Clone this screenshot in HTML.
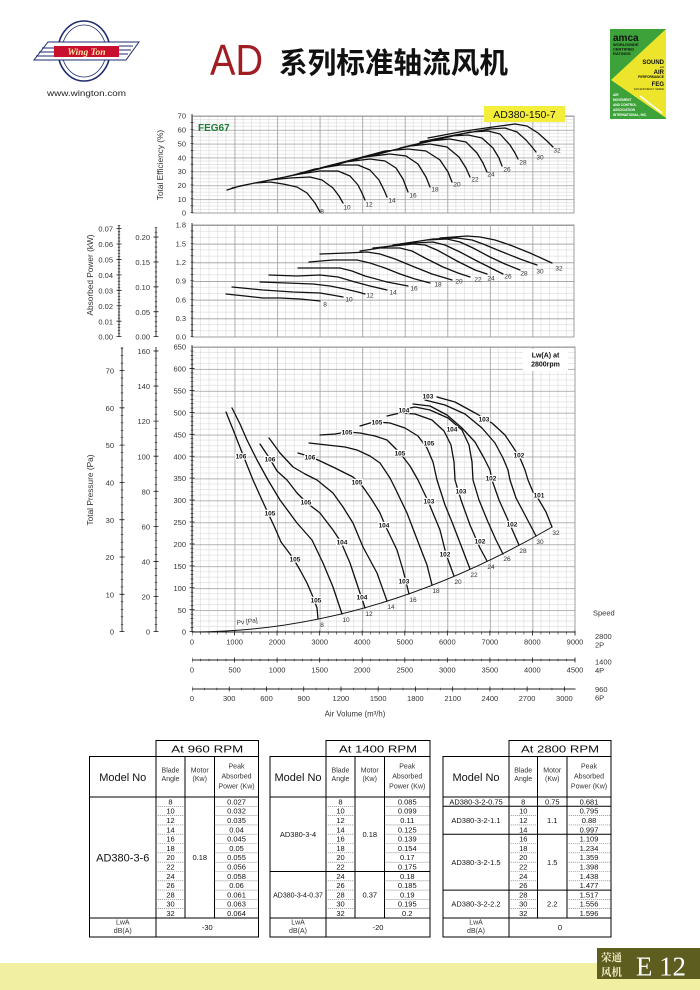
<!DOCTYPE html>
<html><head><meta charset="utf-8"><style>html,body{margin:0;padding:0;background:#fff}svg{display:block}</style></head><body>
<svg xmlns="http://www.w3.org/2000/svg" width="700" height="990" viewBox="0 0 700 990" font-family="'Liberation Sans', Arial, sans-serif">
<defs>
<pattern id="gE" x="192" y="116" width="42.556" height="13.857" patternUnits="userSpaceOnUse">
<path d="M8.511,0V13.857M17.022,0V13.857M25.533,0V13.857M34.044,0V13.857M0,3.464H42.556M0,6.929H42.556M0,10.393H42.556" stroke="#d2d2d2" stroke-width="0.5"/>
<path d="M0.4,0V13.857M0,0.4H42.556" stroke="#9c9c9c" stroke-width="0.8"/>
</pattern>
<pattern id="gP" x="192" y="225" width="42.556" height="18.667" patternUnits="userSpaceOnUse">
<path d="M8.511,0V18.667M17.022,0V18.667M25.533,0V18.667M34.044,0V18.667M0,6.222H42.556M0,12.444H42.556" stroke="#d2d2d2" stroke-width="0.5"/>
<path d="M0.4,0V18.667M0,0.4H42.556" stroke="#9c9c9c" stroke-width="0.8"/>
</pattern>
<pattern id="gT" x="192" y="347" width="42.556" height="21.923" patternUnits="userSpaceOnUse">
<path d="M8.511,0V21.923M17.022,0V21.923M25.533,0V21.923M34.044,0V21.923M0,5.481H42.556M0,10.962H42.556M0,16.442H42.556" stroke="#d2d2d2" stroke-width="0.5"/>
<path d="M0.4,0V21.923M0,0.4H42.556" stroke="#9c9c9c" stroke-width="0.8"/>
</pattern>
</defs>

<!-- ===== LOGO ===== -->
<ellipse cx="84" cy="51" rx="26" ry="30" fill="none" stroke="#1d2a6e" stroke-width="1.6"/>
<ellipse cx="84" cy="51" rx="22" ry="26" fill="none" stroke="#1d2a6e" stroke-width="0.8"/>
<polygon points="48,42 139,42 126,60 34,60" fill="#fff" stroke="#1d2a6e" stroke-width="1"/>
<path d="M42,48H54M39,52H54M36,56H54M119,46H133M119,50H131M119,54H128" stroke="#1d2a6e" stroke-width="0.9"/>
<rect x="54" y="46" width="65" height="11" fill="#c8102e"/>
<text x="86.5" y="55" font-family="'Liberation Serif', serif" font-weight="bold" font-style="italic" font-size="9.5" fill="#fbe7a4" text-anchor="middle">Wing Ton</text>
<text x="86.5" y="96" font-size="8.5" fill="#222" text-anchor="middle" textLength="79" lengthAdjust="spacingAndGlyphs">www.wington.com</text>

<!-- ===== TITLE ===== -->
<text x="210" y="75" font-size="44" fill="#a01d23" textLength="53" lengthAdjust="spacingAndGlyphs">AD</text>
<text x="279" y="73" font-size="29" font-weight="bold" fill="#111" font-family="'Liberation Sans','Noto Sans CJK SC',sans-serif" textLength="229" lengthAdjust="spacingAndGlyphs">系列标准轴流风机</text>

<!-- ===== AMCA ===== -->
<rect x="610" y="29" width="56" height="90" fill="#3da23a"/>
<polygon points="666,29 611,80 666,118" fill="#ece52c"/>
<path d="M640,96L662,113" stroke="#fff" stroke-width="1.5"/>
<text x="613" y="41" font-size="10" font-weight="bold" fill="#111">amca</text>
<text x="613" y="46" font-size="4" font-weight="bold" fill="#111">WORLDWIDE</text>
<text x="613" y="50.5" font-size="4" font-weight="bold" fill="#111">CERTIFIED</text>
<text x="613" y="55" font-size="4" font-weight="bold" fill="#111">RATINGS</text>
<text x="664" y="64" font-size="6" font-weight="bold" fill="#111" text-anchor="end">SOUND</text>
<text x="664" y="68" font-size="2.5" fill="#111" text-anchor="end">and</text>
<text x="664" y="74" font-size="6" font-weight="bold" fill="#111" text-anchor="end">AIR</text>
<text x="664" y="78" font-size="3.3" font-weight="bold" fill="#111" text-anchor="end">PERFORMANCE</text>
<text x="664" y="86" font-size="6" font-weight="bold" fill="#111" text-anchor="end">FEG</text>
<text x="664" y="90" font-size="2.5" fill="#111" text-anchor="end">FAN EFFICIENCY GRADE</text>
<text x="613" y="96" font-size="3.2" font-weight="bold" fill="#fff">AIR</text>
<text x="613" y="101" font-size="3.2" font-weight="bold" fill="#fff">MOVEMENT</text>
<text x="613" y="106" font-size="3.2" font-weight="bold" fill="#fff">AND CONTROL</text>
<text x="613" y="111" font-size="3.2" font-weight="bold" fill="#fff">ASSOCIATION</text>
<text x="613" y="116" font-size="3.2" font-weight="bold" fill="#fff">INTERNATIONAL, INC.</text>

<!-- ===== EFFICIENCY CHART ===== -->
<rect x="192" y="116" width="382" height="97" fill="url(#gE)" stroke="#888" stroke-width="0.8"/>
<line x1="192" y1="213" x2="192" y2="114" stroke="#222" stroke-width="0.9"/>
<line x1="192" y1="213" x2="192" y2="116" stroke="#222" stroke-width="3" stroke-dasharray="0.6 6.33"/>
<g font-size="7.5" fill="#333" text-anchor="end">
<text x="186" y="118.7">70</text><text x="186" y="132.6">60</text><text x="186" y="146.4">50</text><text x="186" y="160.3">40</text><text x="186" y="174.1">30</text><text x="186" y="188">20</text><text x="186" y="201.8">10</text><text x="186" y="215.7">0</text>
</g>
<text transform="translate(163,165) rotate(-90)" font-size="8.3" fill="#333" text-anchor="middle">Total Efficiency (%)</text>
<text x="198" y="131" font-size="10" font-weight="bold" fill="#1e7b34">FEG67</text>
<rect x="484" y="106" width="81" height="16" fill="#f2ee3a"/>
<text x="524.5" y="118" font-size="10.5" fill="#111" text-anchor="middle">AD380-150-7</text>
<path fill="none" stroke="#111" stroke-width="1.3" stroke-linejoin="round" stroke-linecap="round" d="
M227,190L240,186 255,183 270,182 283,184 297,187 307,193 315,203 320,212
M232,188L250,184 270,180 290,178 310,177 322,180 333,188 339,196 343,203
M250,184L275,179 300,174 320,171 338,171 350,176 358,185 362,193 365,200
M265,181L290,176 315,169 340,165 358,165 370,170 379,180 384,190 387,197
M285,177L315,170 345,162 370,159 385,161 396,168 403,179 408,192
M300,173L335,165 365,157 390,154 406,156 418,164 426,177 430,187
M320,168L355,159 385,151 408,149 426,151 440,160 448,172 452,182
M350,161L385,152 410,146 430,144 447,147 459,157 466,168 470,177
M375,155L405,147 430,141 450,139 466,142 477,153 483,163 487,172
M400,148L425,142 450,136 468,135 482,138 493,148 499,158 502,166
M405,147L440,139 470,132 488,131 500,134 510,145 515,153 518,159
M420,142L455,135 490,129 505,128 517,132 526,140 532,147 536,152
M428,138L465,131 500,126 515,124 527,126 538,133 547,141 553,147"/>
<g font-size="6.5" fill="#333" text-anchor="middle">
<text x="322" y="213.5">8</text><text x="347" y="209.3">10</text><text x="369" y="206.3">12</text><text x="392" y="202.3">14</text><text x="413" y="197.3">16</text><text x="435" y="191.3">18</text><text x="457" y="186.3">20</text><text x="475" y="181.3">22</text><text x="491" y="176.3">24</text><text x="507" y="171.3">26</text><text x="523" y="164.3">28</text><text x="540" y="159.3">30</text><text x="557" y="152.3">32</text>
</g>

<!-- ===== POWER CHART ===== -->
<rect x="192" y="225" width="382" height="112" fill="url(#gP)" stroke="#888" stroke-width="0.8"/>
<line x1="192" y1="337" x2="192" y2="223" stroke="#222" stroke-width="0.9"/>
<line x1="192" y1="337" x2="192" y2="225" stroke="#222" stroke-width="3" stroke-dasharray="0.6 5.622"/>
<line x1="156" y1="337" x2="156" y2="227" stroke="#222" stroke-width="0.9"/>
<line x1="156" y1="337" x2="156" y2="227" stroke="#222" stroke-width="2.5" stroke-dasharray="0.6 4.378"/>
<line x1="156" y1="337" x2="156" y2="227" stroke="#222" stroke-width="5" stroke-dasharray="0.8 24.09"/>
<line x1="119" y1="337" x2="119" y2="225" stroke="#222" stroke-width="0.9"/>
<line x1="119" y1="337" x2="119" y2="225" stroke="#222" stroke-width="2.5" stroke-dasharray="0.6 2.486"/>
<line x1="119" y1="337" x2="119" y2="225" stroke="#222" stroke-width="5" stroke-dasharray="0.8 14.63"/>
<g font-size="7.5" fill="#333" text-anchor="end">
<text x="186" y="227.7">1.8</text><text x="186" y="246.4">1.5</text><text x="186" y="265">1.2</text><text x="186" y="283.7">0.9</text><text x="186" y="302.4">0.6</text><text x="186" y="321">0.3</text><text x="186" y="339.7">0.0</text>
<text x="150" y="240.1">0.20</text><text x="150" y="265">0.15</text><text x="150" y="289.9">0.10</text><text x="150" y="314.8">0.05</text><text x="150" y="339.7">0.00</text>
<text x="113" y="231.7">0.07</text><text x="113" y="247.1">0.06</text><text x="113" y="262.5">0.05</text><text x="113" y="278">0.04</text><text x="113" y="293.4">0.03</text><text x="113" y="308.8">0.02</text><text x="113" y="324.3">0.01</text><text x="113" y="339.7">0.00</text>
</g>
<text transform="translate(93,275) rotate(-90)" font-size="8.3" fill="#333" text-anchor="middle">Absorbed Power (kW)</text>
<path fill="none" stroke="#111" stroke-width="1.3" stroke-linejoin="round" stroke-linecap="round" d="
M226,294L245,296 263,298 280,298 300,299 320,301
M232,287L263,290 293,292 320,293 332,295 343,297
M260,282L287,283 313,284 330,286 345,289 358,292 365,294
M269,275L297,276 320,275 338,277 355,282 370,286 387,290
M298,268L323,268 340,268 352,271 365,276 387,282 408,286
M309,262L333,260 357,260 370,263 385,268 400,274 415,279 430,283
M320,254L347,253 367,252 380,254 395,259 412,266 432,274 452,280
M360,251L380,248 400,248 412,251 425,258 443,267 458,273 470,277
M373,248L393,246 413,244 425,245 437,250 457,261 475,270 487,274
M383,247L413,243 433,242 445,245 460,252 477,261 493,269 503,274
M393,245L427,240 447,239 460,242 473,248 490,257 505,264 520,270
M420,241L433,239 457,238 472,240 483,244 500,251 520,259 537,265
M440,238L467,236 480,237 495,240 510,245 530,253 552,263"/>
<g font-size="6.5" fill="#333" text-anchor="middle">
<text x="325" y="306.3">8</text><text x="349" y="301.3">10</text><text x="370" y="297.3">12</text><text x="393" y="294.3">14</text><text x="414" y="290.3">16</text><text x="438" y="286.3">18</text><text x="459" y="283.3">20</text><text x="478" y="281.3">22</text><text x="491" y="280.3">24</text><text x="508" y="278.3">26</text><text x="524" y="275.3">28</text><text x="540" y="273.3">30</text><text x="559" y="270.3">32</text>
</g>

<!-- ===== PRESSURE CHART ===== -->
<rect x="192" y="347" width="383" height="285" fill="url(#gT)" stroke="#888" stroke-width="0.8"/>
<line x1="192" y1="632" x2="192" y2="345" stroke="#222" stroke-width="0.9"/>
<line x1="192" y1="632" x2="192" y2="347" stroke="#222" stroke-width="3" stroke-dasharray="0.6 3.785"/>
<line x1="192" y1="632" x2="192" y2="347" stroke="#222" stroke-width="5" stroke-dasharray="0.8 21.12"/>
<line x1="156" y1="632" x2="156" y2="347" stroke="#222" stroke-width="0.9"/>
<line x1="156" y1="632" x2="156" y2="347" stroke="#222" stroke-width="2.5" stroke-dasharray="0.6 6.415"/>
<line x1="156" y1="632" x2="156" y2="347" stroke="#222" stroke-width="5" stroke-dasharray="0.8 34.28"/>
<line x1="122" y1="632" x2="122" y2="347" stroke="#222" stroke-width="0.9"/>
<line x1="122" y1="632" x2="122" y2="347" stroke="#222" stroke-width="2.5" stroke-dasharray="0.6 6.86"/>
<line x1="122" y1="632" x2="122" y2="347" stroke="#222" stroke-width="5" stroke-dasharray="0.8 36.5"/>
<g font-size="7.5" fill="#333" text-anchor="end">
<text x="186" y="349.7">650</text><text x="186" y="371.6">600</text><text x="186" y="393.5">550</text><text x="186" y="415.4">500</text><text x="186" y="437.4">450</text><text x="186" y="459.3">400</text><text x="186" y="481.2">350</text><text x="186" y="503.1">300</text><text x="186" y="525.1">250</text><text x="186" y="547">200</text><text x="186" y="568.9">150</text><text x="186" y="590.8">100</text><text x="186" y="612.8">50</text><text x="186" y="634.7">0</text>
<text x="150" y="354.1">160</text><text x="150" y="389.2">140</text><text x="150" y="424.2">120</text><text x="150" y="459.3">100</text><text x="150" y="494.4">80</text><text x="150" y="529.5">60</text><text x="150" y="564.5">40</text><text x="150" y="599.6">20</text><text x="150" y="634.7">0</text>
<text x="114" y="373.6">70</text><text x="114" y="410.9">60</text><text x="114" y="448.2">50</text><text x="114" y="485.5">40</text><text x="114" y="522.8">30</text><text x="114" y="560.1">20</text><text x="114" y="597.4">10</text><text x="114" y="634.7">0</text>
</g>
<text transform="translate(93,490) rotate(-90)" font-size="8.3" fill="#333" text-anchor="middle">Total Pressure (Pa)</text>

<!-- Pv curve -->
<path d="M192,632Q372,632 552,527" fill="none" stroke="#111" stroke-width="1"/>
<text transform="translate(237,625) rotate(-8)" font-size="6.5" fill="#333">Pv [Pa]</text>

<path fill="none" stroke="#111" stroke-width="1.3" stroke-linejoin="round" stroke-linecap="round" d="
M226,412L234,432 243,455 253,480 262,500 268,513 275,528 281,542 293,558 300,570 307,583 313,597 317,608 318,619
M232,408L240,424 247,440 257,460 268,480 280,500 297,523 312,540 323,563 333,587 342,614
M260,444L270,459 277,471 287,480 297,493 307,503 320,513 333,530 341,542 350,563 360,593 365,608
M269,438L280,453 293,467 305,474 317,480 333,493 343,507 353,523 363,547 377,573 387,601
M298,453L308,456 318,460 335,468 353,477 363,487 372,500 380,513 385,525 397,550 403,570 409,594
M309,443L327,445 345,447 357,450 370,456 380,463 390,478 395,488 407,513 420,547 427,565 432,585
M320,435L335,434 347,432 360,433 375,436 387,440 400,453 410,466 418,480 428,501 440,530 446,554 454,576
M360,426L370,423 377,422 390,423 405,428 418,436 427,448 433,462 437,480 445,505 452,522 462,548 470,569
M387,416L400,413 415,414 432,420 444,431 451,445 454,462 455,480 461,500 470,525 480,548 487,561
M400,410L415,407 430,410 448,418 462,430 469,445 472,462 473,480 479,500 488,522 496,540 503,554
M413,404L430,406 447,415 462,428 475,442 484,458 490,470 492,480 499,500 508,520 519,545
M425,400L445,405 465,414 482,428 495,443 503,458 508,470 510,480 516,498 525,515 536,536
M437,397L455,402 477,414 492,423 505,435 513,447 520,458 525,470 528,480 533,492 539,500 546,512 552,527"/>

<g font-size="6.5" fill="#333" text-anchor="middle">
<text x="322" y="627">8</text><text x="346" y="622">10</text><text x="369" y="616">12</text><text x="391" y="609">14</text><text x="413" y="602">16</text><text x="436" y="593">18</text><text x="458" y="584">20</text><text x="474" y="577">22</text><text x="491" y="569">24</text><text x="507" y="561">26</text><text x="523" y="553">28</text><text x="540" y="544">30</text><text x="556" y="535">32</text>
</g>
<g font-size="6.5" font-weight="bold" fill="#111" text-anchor="middle" stroke="#fff" stroke-width="2.4" paint-order="stroke" stroke-linejoin="round">
<text x="241" y="458.3">106</text><text x="270" y="461.3">106</text><text x="310" y="459.3">106</text>
<text x="347" y="434.3">105</text><text x="377" y="424.3">105</text><text x="270" y="515.3">105</text><text x="306" y="504.3">105</text><text x="357" y="484.3">105</text><text x="400" y="455.3">105</text><text x="429" y="445.3">105</text><text x="295" y="561.3">105</text><text x="316" y="602.3">105</text>
<text x="404" y="412.3">104</text><text x="452" y="431.3">104</text><text x="342" y="544.3">104</text><text x="384" y="527.3">104</text><text x="362" y="599.3">104</text>
<text x="428" y="398.3">103</text><text x="484" y="421.3">103</text><text x="429" y="503.3">103</text><text x="461" y="493.3">103</text><text x="404" y="583.3">103</text>
<text x="519" y="457.3">102</text><text x="491" y="480.3">102</text><text x="445" y="556.3">102</text><text x="480" y="543.3">102</text><text x="512" y="526.3">102</text>
<text x="539" y="497.3">101</text>
</g>
<rect x="523" y="349" width="45" height="22" fill="#fff"/>
<text x="545.5" y="357.5" font-size="7" font-weight="bold" fill="#111" text-anchor="middle">Lw(A) at</text>
<text x="545.5" y="366.5" font-size="7" font-weight="bold" fill="#111" text-anchor="middle">2800rpm</text>

<!-- x axes -->
<line x1="192" y1="632" x2="575.5" y2="632" stroke="#222" stroke-width="0.9"/>
<line x1="192" y1="633" x2="575.5" y2="633" stroke="#222" stroke-width="3" stroke-dasharray="0.6 7.911" stroke-dashoffset="0.3"/>
<line x1="192" y1="633" x2="575.5" y2="633" stroke="#222" stroke-width="5" stroke-dasharray="0.8 41.756" stroke-dashoffset="0.4"/>
<line x1="192" y1="660" x2="575.5" y2="660" stroke="#222" stroke-width="0.9"/>
<line x1="192" y1="660" x2="575.5" y2="660" stroke="#222" stroke-width="2.5" stroke-dasharray="0.6 7.911" stroke-dashoffset="0.3"/>
<line x1="192" y1="660" x2="575.5" y2="660" stroke="#222" stroke-width="5" stroke-dasharray="0.8 41.756" stroke-dashoffset="0.4"/>
<line x1="192" y1="689" x2="575.5" y2="689" stroke="#222" stroke-width="0.9"/>
<line x1="192" y1="689" x2="575.5" y2="689" stroke="#222" stroke-width="2.5" stroke-dasharray="0.6 11.812" stroke-dashoffset="0.3"/>
<line x1="192" y1="689" x2="575.5" y2="689" stroke="#222" stroke-width="5" stroke-dasharray="0.8 36.437" stroke-dashoffset="0.4"/>
<g font-size="7.5" fill="#333" text-anchor="middle">
<text x="192" y="644.5">0</text><text x="234.6" y="644.5">1000</text><text x="277.1" y="644.5">2000</text><text x="319.7" y="644.5">3000</text><text x="362.2" y="644.5">4000</text><text x="404.8" y="644.5">5000</text><text x="447.3" y="644.5">6000</text><text x="489.9" y="644.5">7000</text><text x="532.4" y="644.5">8000</text><text x="575" y="644.5">9000</text>
<text x="192" y="672.5">0</text><text x="234.6" y="672.5">500</text><text x="277.1" y="672.5">1000</text><text x="319.7" y="672.5">1500</text><text x="362.2" y="672.5">2000</text><text x="404.8" y="672.5">2500</text><text x="447.3" y="672.5">3000</text><text x="489.9" y="672.5">3500</text><text x="532.4" y="672.5">4000</text><text x="575" y="672.5">4500</text>
<text x="192" y="701">0</text><text x="229.2" y="701">300</text><text x="266.5" y="701">600</text><text x="303.7" y="701">900</text><text x="340.9" y="701">1200</text><text x="378.2" y="701">1500</text><text x="415.4" y="701">1800</text><text x="452.7" y="701">2100</text><text x="489.9" y="701">2400</text><text x="527.1" y="701">2700</text><text x="564.4" y="701">3000</text>
<text x="355" y="716.5" font-size="7.8">Air Volume (m³/h)</text>
</g>
<g font-size="7.5" fill="#333">
<text x="593" y="615.5">Speed</text>
<text x="595" y="639">2800</text><text x="595" y="647.5">2P</text>
<text x="595" y="664.5">1400</text><text x="595" y="673">4P</text>
<text x="595" y="692">960</text><text x="595" y="700.5">6P</text>
</g>

<!-- ===== TABLES ===== -->
<g stroke="#000" stroke-width="1" fill="none">
<rect x="89.5" y="756.5" width="169" height="180.5"/>
<rect x="156" y="740.5" width="102.5" height="16"/>
<path d="M156,756.5V937M185,756.5V918M214.5,756.5V918M89.5,797H258.5M89.5,918H258.5"/>
<rect x="270" y="756.5" width="160" height="180.5"/>
<rect x="326" y="740.5" width="104" height="16"/>
<path d="M326,756.5V937M355,756.5V918M384.5,756.5V918M270,797H430M270,918H430M270,871.5H430"/>
<rect x="443" y="756.5" width="168" height="180.5"/>
<rect x="509" y="740.5" width="102" height="16"/>
<path d="M509,756.5V937M537.5,756.5V918M567,756.5V918M443,797H611M443,918H611M443,806.3H611M443,834.2H611M443,890.1H611"/>
</g>
<g stroke="#777" stroke-width="0.6" stroke-dasharray="1.2 0.8">
<path d="M156,806.3H185M156,815.6H185M156,824.9H185M156,834.2H185M156,843.5H185M156,852.8H185M156,862.2H185M156,871.5H185M156,880.8H185M156,890.1H185M156,899.4H185M156,908.7H185
M214.5,806.3H258.5M214.5,815.6H258.5M214.5,824.9H258.5M214.5,834.2H258.5M214.5,843.5H258.5M214.5,852.8H258.5M214.5,862.2H258.5M214.5,871.5H258.5M214.5,880.8H258.5M214.5,890.1H258.5M214.5,899.4H258.5M214.5,908.7H258.5"/>
<path d="M326,806.3H355M326,815.6H355M326,824.9H355M326,834.2H355M326,843.5H355M326,852.8H355M326,862.2H355M326,880.8H355M326,890.1H355M326,899.4H355M326,908.7H355
M384.5,806.3H430M384.5,815.6H430M384.5,824.9H430M384.5,834.2H430M384.5,843.5H430M384.5,852.8H430M384.5,862.2H430M384.5,880.8H430M384.5,890.1H430M384.5,899.4H430M384.5,908.7H430"/>
<path d="M509,815.6H537.5M509,824.9H537.5M509,843.5H537.5M509,852.8H537.5M509,862.2H537.5M509,871.5H537.5M509,880.8H537.5M509,899.4H537.5M509,908.7H537.5
M567,815.6H611M567,824.9H611M567,843.5H611M567,852.8H611M567,862.2H611M567,871.5H611M567,880.8H611M567,899.4H611M567,908.7H611"/>
</g>

<g fill="#111" text-anchor="middle">
<!-- headers -->
<text x="207.25" y="752.5" font-size="10.5" textLength="72" lengthAdjust="spacingAndGlyphs">At 960 RPM</text>
<text x="378" y="752.5" font-size="10.5" textLength="78" lengthAdjust="spacingAndGlyphs">At 1400 RPM</text>
<text x="560" y="752.5" font-size="10.5" textLength="78" lengthAdjust="spacingAndGlyphs">At 2800 RPM</text>
<g font-size="11"><text x="122.75" y="781">Model No</text><text x="298" y="781">Model No</text><text x="476" y="781">Model No</text></g>
<g font-size="7" fill="#333">
<text x="170.5" y="772.5">Blade</text><text x="170.5" y="781">Angle</text><text x="199.75" y="772.5">Motor</text><text x="199.75" y="781">(Kw)</text>
<text x="236.5" y="768.5">Peak</text><text x="236.5" y="778.5">Absorbed</text><text x="236.5" y="788.5">Power (Kw)</text>
<text x="340.5" y="772.5">Blade</text><text x="340.5" y="781">Angle</text><text x="369.75" y="772.5">Motor</text><text x="369.75" y="781">(Kw)</text>
<text x="407.25" y="768.5">Peak</text><text x="407.25" y="778.5">Absorbed</text><text x="407.25" y="788.5">Power (Kw)</text>
<text x="523.25" y="772.5">Blade</text><text x="523.25" y="781">Angle</text><text x="552.25" y="772.5">Motor</text><text x="552.25" y="781">(Kw)</text>
<text x="589" y="768.5">Peak</text><text x="589" y="778.5">Absorbed</text><text x="589" y="788.5">Power (Kw)</text>
</g>
<!-- blade angles -->
<g font-size="7.5">
<text x="170.5" y="804.4">8</text><text x="170.5" y="813.7">10</text><text x="170.5" y="823">12</text><text x="170.5" y="832.3">14</text><text x="170.5" y="841.6">16</text><text x="170.5" y="850.9">18</text><text x="170.5" y="860.2">20</text><text x="170.5" y="869.5">22</text><text x="170.5" y="878.8">24</text><text x="170.5" y="888.1">26</text><text x="170.5" y="897.4">28</text><text x="170.5" y="906.7">30</text><text x="170.5" y="916">32</text>
<text x="340.5" y="804.4">8</text><text x="340.5" y="813.7">10</text><text x="340.5" y="823">12</text><text x="340.5" y="832.3">14</text><text x="340.5" y="841.6">16</text><text x="340.5" y="850.9">18</text><text x="340.5" y="860.2">20</text><text x="340.5" y="869.5">22</text><text x="340.5" y="878.8">24</text><text x="340.5" y="888.1">26</text><text x="340.5" y="897.4">28</text><text x="340.5" y="906.7">30</text><text x="340.5" y="916">32</text>
<text x="523.25" y="804.4">8</text><text x="523.25" y="813.7">10</text><text x="523.25" y="823">12</text><text x="523.25" y="832.3">14</text><text x="523.25" y="841.6">16</text><text x="523.25" y="850.9">18</text><text x="523.25" y="860.2">20</text><text x="523.25" y="869.5">22</text><text x="523.25" y="878.8">24</text><text x="523.25" y="888.1">26</text><text x="523.25" y="897.4">28</text><text x="523.25" y="906.7">30</text><text x="523.25" y="916">32</text>
<!-- peaks -->
<text x="236.5" y="804.4">0.027</text><text x="236.5" y="813.7">0.032</text><text x="236.5" y="823">0.035</text><text x="236.5" y="832.3">0.04</text><text x="236.5" y="841.6">0.045</text><text x="236.5" y="850.9">0.05</text><text x="236.5" y="860.2">0.055</text><text x="236.5" y="869.5">0.056</text><text x="236.5" y="878.8">0.058</text><text x="236.5" y="888.1">0.06</text><text x="236.5" y="897.4">0.061</text><text x="236.5" y="906.7">0.063</text><text x="236.5" y="916">0.064</text>
<text x="407.25" y="804.4">0.085</text><text x="407.25" y="813.7">0.099</text><text x="407.25" y="823">0.11</text><text x="407.25" y="832.3">0.125</text><text x="407.25" y="841.6">0.139</text><text x="407.25" y="850.9">0.154</text><text x="407.25" y="860.2">0.17</text><text x="407.25" y="869.5">0.175</text><text x="407.25" y="878.8">0.18</text><text x="407.25" y="888.1">0.185</text><text x="407.25" y="897.4">0.19</text><text x="407.25" y="906.7">0.195</text><text x="407.25" y="916">0.2</text>
<text x="589" y="804.4">0.681</text><text x="589" y="813.7">0.795</text><text x="589" y="823">0.88</text><text x="589" y="832.3">0.997</text><text x="589" y="841.6">1.109</text><text x="589" y="850.9">1.234</text><text x="589" y="860.2">1.359</text><text x="589" y="869.5">1.398</text><text x="589" y="878.8">1.438</text><text x="589" y="888.1">1.477</text><text x="589" y="897.4">1.517</text><text x="589" y="906.7">1.556</text><text x="589" y="916">1.596</text>
<!-- motors -->
<text x="199.75" y="860.2">0.18</text>
<text x="369.75" y="836.9">0.18</text><text x="369.75" y="897.4">0.37</text>
<text x="552.25" y="804.4">0.75</text><text x="552.25" y="823">1.1</text><text x="552.25" y="864.9">1.5</text><text x="552.25" y="906.7">2.2</text>
<!-- models -->
<text x="298" y="836.9">AD380-3-4</text>
<text x="298" y="897.4" font-size="7">AD380-3-4-0.37</text>
<text x="476" y="804.4">AD380-3-2-0.75</text><text x="476" y="823">AD380-3-2-1.1</text><text x="476" y="864.9">AD380-3-2-1.5</text><text x="476" y="906.7">AD380-3-2-2.2</text>
<!-- LwA -->
<text x="207.25" y="930">-30</text><text x="378" y="930">-20</text><text x="560" y="930">0</text>
</g>
<text x="122.75" y="861.4" font-size="11">AD380-3-6</text>
<g font-size="7" fill="#333">
<text x="122.75" y="924.5">LwA</text><text x="122.75" y="933">dB(A)</text>
<text x="298" y="924.5">LwA</text><text x="298" y="933">dB(A)</text>
<text x="476" y="924.5">LwA</text><text x="476" y="933">dB(A)</text>
</g>
</g>

<!-- ===== FOOTER ===== -->
<rect x="0" y="963" width="700" height="27" fill="#f1efa2"/>
<rect x="597" y="948" width="103" height="31" fill="#5e5d20"/>
<text x="611.5" y="961" font-size="10.5" font-weight="bold" fill="#f4f1c8" text-anchor="middle" font-family="'Liberation Serif','Noto Serif CJK SC',serif">荣通</text>
<text x="611.5" y="975.5" font-size="10.5" font-weight="bold" fill="#f4f1c8" text-anchor="middle" font-family="'Liberation Serif','Noto Serif CJK SC',serif">风机</text>
<text x="636" y="975.5" font-size="27" fill="#fff" font-family="'Liberation Serif',serif" textLength="50" lengthAdjust="spacingAndGlyphs">E 12</text>
</svg>
</body></html>
